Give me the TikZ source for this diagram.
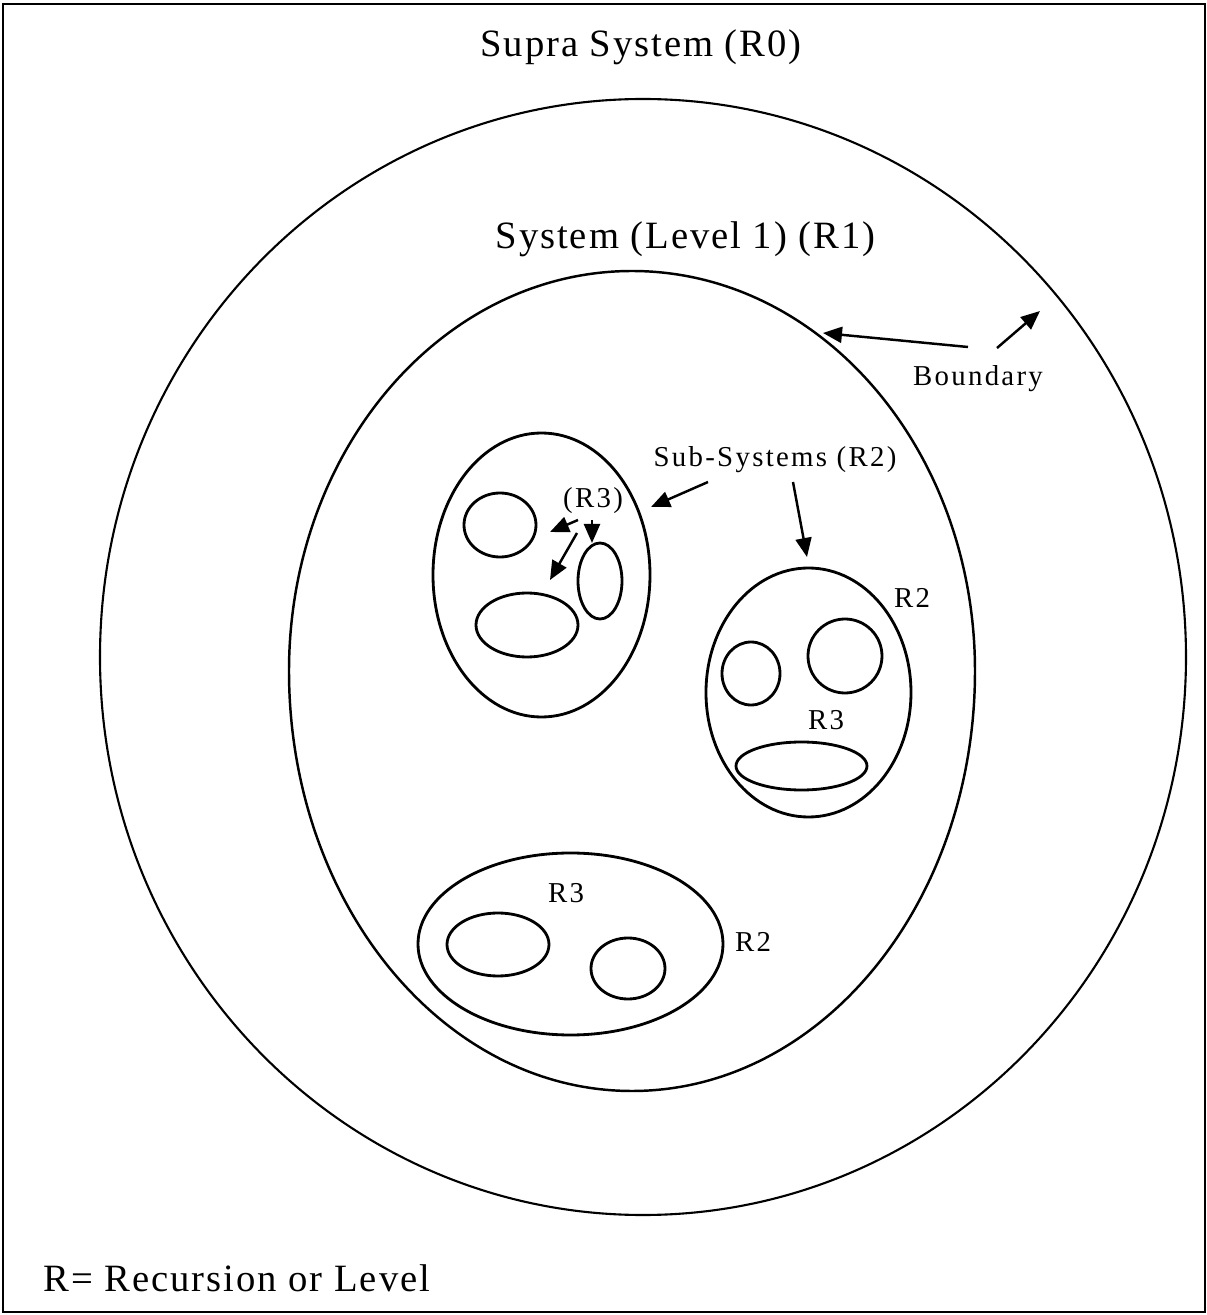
\documentclass[tikz,border=0pt]{standalone}
\usepackage{fontspec}
\setmainfont{Liberation Serif}
\newfontfamily\bigfont[LetterSpace=5]{Liberation Serif}
\newfontfamily\smallfont[LetterSpace=8]{Liberation Serif}
\usetikzlibrary{arrows.meta}

\tikzset{
  title/.style={font=\bigfont\fontsize{11}{13}\selectfont, anchor=base, inner sep=0pt},
  lbl/.style={font=\smallfont\fontsize{8.2}{10}\selectfont, anchor=base, inner sep=0pt},
  ptr/.style={-{Triangle[length=1.9mm,width=1.6mm]}, line width=0.7pt},
  sub/.style={line width=0.8pt},
}

\begin{document}
\begin{tikzpicture}
	\useasboundingbox (0,0) rectangle (12.07,13.15);
	\draw [line width=0.8pt] (0.03,0.03) rectangle (12.05,13.11);

	% supra system and system
	\draw [line width=0.6pt] (6.43,6.58) ellipse [x radius=5.43, y radius=5.58];
	\draw [line width=0.7pt] (9.75,6.44) arc [start angle=0, end angle=180, x radius=3.43, y radius=4.00]
		arc [start angle=180, end angle=360, x radius=3.43, y radius=4.20] -- cycle;

	% first sub-system
	\draw [sub] (5.415,7.40) ellipse [x radius=1.085, y radius=1.42];
	\draw [sub] (5.00,7.90) ellipse [x radius=0.36, y radius=0.32];
	\draw [sub] (6.00,7.34) ellipse [x radius=0.22, y radius=0.38];
	\draw [sub] (5.27,6.90) ellipse [x radius=0.51, y radius=0.32];

	% second sub-system
	\draw [sub] (8.085,6.225) ellipse [x radius=1.025, y radius=1.245];
	\draw [sub] (7.51,6.415) ellipse [x radius=0.29, y radius=0.315];
	\draw [sub] (8.45,6.59) circle [radius=0.37];
	\draw [sub] (8.015,5.49) ellipse [x radius=0.655, y radius=0.24];

	% third sub-system
	\draw [sub] (5.705,3.71) ellipse [x radius=1.525, y radius=0.91];
	\draw [sub] (4.98,3.705) ellipse [x radius=0.51, y radius=0.315];
	\draw [sub] (6.28,3.465) ellipse [x radius=0.37, y radius=0.305];

	% labels
	\node [title] (supra) at (6.41,12.58) {Supra System (R0)};
	\node [title] (sys) at (6.855,10.67) {System (Level 1) (R1)};
	\node [lbl] (bnd) at (9.78,9.29) {Boundary};
	\node [lbl] (subs) at (7.75,8.48) {Sub-Systems (R2)};
	\node [lbl] (rthree) at (5.93,8.07) {(R3)};
	\node [lbl] (rtwoa) at (9.12,7.08) {R2};
	\node [lbl] (rthreea) at (8.26,5.85) {R3};
	\node [lbl] (rthreeb) at (5.66,4.12) {R3};
	\node [lbl] (rtwob) at (7.53,3.63) {R2};
	\node [title, anchor=base west] (key) at (0.43,0.23) {R= Recursion or Level};

	% arrow ends
	\coordinate (b1) at (9.68,9.68);
	\coordinate (b1e) at (8.23,9.82);
	\coordinate (b2) at (9.97,9.67);
	\coordinate (b2e) at (10.40,10.04);
	\coordinate (s1) at (7.08,8.33);
	\coordinate (s1e) at (6.51,8.08);
	\coordinate (s2) at (7.93,8.33);
	\coordinate (s2e) at (8.07,7.58);
	\coordinate (r1) at (5.78,7.95);
	\coordinate (r1e) at (5.50,7.83);
	\coordinate (r2) at (5.92,7.95);
	\coordinate (r2e) at (5.92,7.72);
	\coordinate (r3) at (5.77,7.82);
	\coordinate (r3e) at (5.50,7.35);

	\draw [ptr] (b1) -- (b1e);
	\draw [ptr] (b2) -- (b2e);
	\draw [ptr] (s1) -- (s1e);
	\draw [ptr] (s2) -- (s2e);
	\draw [ptr] (r1) -- (r1e);
	\draw [ptr] (r2) -- (r2e);
	\draw [ptr] (r3) -- (r3e);
\end{tikzpicture}
\end{document}
